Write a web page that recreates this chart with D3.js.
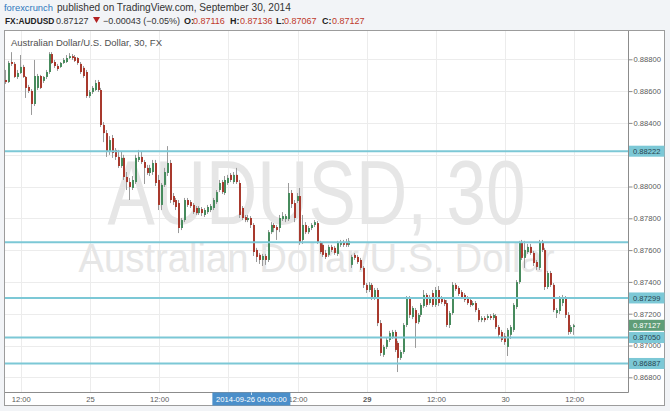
<!DOCTYPE html>
<html>
<head>
<meta charset="utf-8">
<script src="https://cdnjs.cloudflare.com/ajax/libs/d3/7.8.5/d3.min.js"></script>
<style>
    body { margin: 0; background: #f2f4f7; }
    svg { display: block; font-family: "Liberation Sans", Arial, sans-serif; }
</style>
</head>
<body>
<svg id="chart" width="670" height="411"></svg>
<script>
// AUDUSD 30 min candles, 24 Sep 09:30 .. 30 Sep 12:00 (bar 0 = 24 Sep 12:00)
// quotes in points (1 point = 0.00001)
var firstBar = -5;

var openPts = [
    88670, 88657, 88783, 88771, 88689, 88714, 88752, 88689, 88626, 88601,
    88519, 88620, 88695, 88664, 88689, 88720, 88833, 88783, 88758, 88752,
    88777, 88783, 88808, 88820, 88814, 88808, 88771, 88746, 88720, 88569,
    88594, 88607, 88657, 88607, 88387, 88336, 88217, 88305, 88230, 88186,
    88129, 88180, 88060, 88028, 87991, 88028, 88167, 88186, 88154, 88117,
    88085, 88091, 88148, 88041, 87884, 88010, 88085, 88148, 87940, 87915,
    87896, 87739, 87789, 87915, 87902, 87884, 87865, 87833, 87858, 87821,
    87839, 87852, 87865, 87902, 87978, 88028, 87959, 88022, 88073, 88028,
    88073, 88022, 87865, 87808, 87789, 87802, 87758, 87601, 87570, 87538,
    87563, 87538, 87713, 87758, 87745, 87739, 87795, 87795, 87795, 87959,
    87896, 87909, 87940, 87664, 87758, 87713, 87739, 87758, 87770, 87645,
    87633, 87582, 87570, 87620, 87614, 87576, 87633, 87645, 87651, 87633,
    87507, 87570, 87557, 87538, 87488, 87381, 87349, 87381, 87299, 87349,
    87141, 86941, 86991, 87035, 87054, 87085, 87016, 86922, 86959, 87129,
    87299, 87179, 87223, 87147, 87192, 87248, 87318, 87267, 87330, 87255,
    87349, 87299, 87286, 87267, 87129, 87204, 87381, 87362, 87336, 87318,
    87299, 87286, 87255, 87267, 87223, 87160, 87173, 87173, 87185, 87173,
    87185, 87116, 87085, 87060, 86991, 87067, 87098, 87242, 87399, 87645,
    87551, 87588, 87620, 87582, 87525, 87488, 87651, 87601, 87368, 87456,
    87381, 87204, 87217, 87267, 87299, 87192, 87085, 87116
];

var highPts = [
    88733, 88790, 88845, 88783, 88733, 88827, 88765, 88695, 88639, 88613,
    88796, 88708, 88702, 88695, 88733, 88845, 88845, 88796, 88771, 88783,
    88808, 88827, 88839, 88833, 88827, 88814, 88783, 88758, 88733, 88607,
    88632, 88670, 88670, 88620, 88405, 88355, 88317, 88324, 88242, 88230,
    88217, 88199, 88091, 88054, 88066, 88199, 88230, 88217, 88167, 88136,
    88136, 88167, 88167, 88073, 88022, 88117, 88254, 88167, 87959, 87928,
    87915, 87802, 87928, 87928, 87915, 87896, 87877, 87877, 87871, 87865,
    87884, 87890, 87928, 87978, 88041, 88041, 88066, 88073, 88085, 88091,
    88117, 88041, 87877, 87821, 87821, 87814, 87770, 87614, 87582, 87576,
    87576, 87726, 87776, 87770, 87758, 87821, 87839, 87827, 88022, 87978,
    87915, 87959, 87991, 87821, 87776, 87751, 87770, 87789, 87783, 87658,
    87645, 87601, 87633, 87633, 87626, 87658, 87664, 87664, 87670, 87676,
    87570, 87582, 87570, 87551, 87500, 87393, 87399, 87393, 87362, 87362,
    87160, 87004, 87048, 87092, 87098, 87098, 87029, 86972, 87141, 87311,
    87311, 87248, 87236, 87204, 87267, 87349, 87330, 87318, 87349, 87368,
    87374, 87311, 87299, 87286, 87217, 87399, 87393, 87374, 87349, 87330,
    87311, 87299, 87280, 87280, 87236, 87185, 87185, 87198, 87198, 87204,
    87198, 87129, 87098, 87079, 87110, 87129, 87267, 87412, 87658, 87664,
    87658, 87639, 87639, 87595, 87538, 87664, 87664, 87614, 87469, 87469,
    87393, 87236, 87311, 87318, 87311, 87210, 87129, 87136
];

var lowPts = [
    88645, 88651, 88758, 88683, 88676, 88708, 88683, 88557, 88588, 88450,
    88506, 88607, 88613, 88651, 88676, 88708, 88771, 88746, 88727, 88746,
    88771, 88777, 88802, 88796, 88783, 88765, 88708, 88683, 88557, 88557,
    88582, 88601, 88594, 88374, 88279, 88186, 88199, 88180, 88167, 88117,
    88117, 88041, 87978, 87915, 87978, 88016, 88154, 88142, 88016, 88073,
    88066, 88073, 88003, 87852, 87852, 87997, 88066, 87896, 87884, 87852,
    87707, 87726, 87776, 87871, 87865, 87827, 87821, 87821, 87814, 87808,
    87827, 87839, 87852, 87890, 87965, 87953, 87947, 88010, 88028, 88016,
    88016, 87802, 87789, 87776, 87776, 87739, 87563, 87525, 87513, 87500,
    87507, 87525, 87701, 87713, 87664, 87713, 87783, 87776, 87783, 87865,
    87776, 87896, 87633, 87639, 87701, 87701, 87726, 87745, 87639, 87576,
    87557, 87544, 87557, 87588, 87570, 87563, 87620, 87620, 87620, 87620,
    87488, 87538, 87513, 87475, 87362, 87330, 87336, 87286, 87286, 87122,
    86934, 86928, 86978, 87022, 87041, 86959, 86833, 86909, 86947, 87116,
    87173, 87166, 86985, 87135, 87179, 87236, 87242, 87255, 87242, 87242,
    87248, 87261, 87248, 87116, 87110, 87192, 87343, 87311, 87292, 87273,
    87255, 87242, 87248, 87210, 87147, 87147, 87147, 87160, 87160, 87160,
    87103, 87054, 87022, 87004, 86934, 87041, 87085, 87229, 87387, 87538,
    87488, 87576, 87570, 87500, 87475, 87475, 87588, 87349, 87355, 87368,
    87210, 87173, 87198, 87248, 87173, 87067, 87073, 87067
];

var closePts = [
    88657, 88777, 88771, 88689, 88714, 88752, 88689, 88620, 88601, 88519,
    88695, 88695, 88620, 88689, 88720, 88833, 88777, 88758, 88739, 88777,
    88796, 88808, 88820, 88808, 88790, 88777, 88720, 88695, 88569, 88594,
    88620, 88651, 88607, 88387, 88336, 88217, 88292, 88211, 88186, 88129,
    88180, 88060, 88028, 87997, 88041, 88180, 88186, 88154, 88117, 88085,
    88117, 88148, 88022, 87884, 88010, 88091, 88148, 87915, 87902, 87871,
    87739, 87789, 87915, 87884, 87877, 87839, 87833, 87865, 87833, 87852,
    87871, 87877, 87915, 87965, 88022, 87965, 88041, 88054, 88041, 88073,
    88028, 87821, 87802, 87789, 87802, 87758, 87588, 87557, 87538, 87563,
    87538, 87713, 87758, 87739, 87726, 87802, 87814, 87814, 87959, 87890,
    87802, 87940, 87651, 87758, 87713, 87739, 87758, 87776, 87651, 87588,
    87570, 87557, 87620, 87601, 87582, 87645, 87651, 87633, 87633, 87658,
    87557, 87551, 87525, 87488, 87381, 87349, 87381, 87305, 87349, 87141,
    86953, 86991, 87035, 87079, 87085, 86972, 86922, 86959, 87129, 87299,
    87192, 87236, 87141, 87192, 87255, 87318, 87255, 87305, 87255, 87349,
    87267, 87273, 87261, 87129, 87204, 87381, 87355, 87324, 87305, 87286,
    87267, 87255, 87267, 87223, 87160, 87173, 87160, 87185, 87173, 87192,
    87116, 87067, 87035, 87022, 87098, 87116, 87255, 87399, 87645, 87551,
    87601, 87620, 87582, 87519, 87494, 87651, 87601, 87368, 87456, 87381,
    87223, 87223, 87299, 87299, 87192, 87085, 87116, 87127
];

// "26" sits under the crosshair time label, so it is not printed
var timeTickBars = [0, 24, 48, 72, 96, 120, 144, 168, 192];
var timeTickLabels = ["12:00", "25", "12:00", "", "12:00", "29", "12:00", "30", "12:00"];
var priceTicks = [0.888, 0.886, 0.884, 0.882, 0.880, 0.878, 0.876, 0.874, 0.872, 0.870, 0.868];

var levelPrices = [0.88222, 0.87650, 0.87299, 0.87050, 0.86887];
var levelLabelShown = [true, false, true, true, true];
var lastPrice = 0.87127;
var cursorBar = 80, cursorLabel = "2014-09-26 04:00:00";

var POINT = 1e-5;
var UP = "#478b5d", DOWN = "#a8392d", WICK = "#9a9a9a", LEVEL = "#7cc8d6";
var plot = {left: 5, right: 628, top: 31, bottom: 392};

var candles = openPts.map(function(o, i) {
    return {
        bar: firstBar + i,
        o: o * POINT,
        h: highPts[i] * POINT,
        l: lowPts[i] * POINT,
        c: closePts[i] * POINT
    };
});

var svg = d3.select("#chart");

var x = d3.scaleLinear()
    .domain([0, 192])
    .range([20.7, 574.3]);

var y = d3.scaleLinear()
    .domain([0.868, 0.888])
    .range([377.3, 59.3]);

var fmt = d3.format(".5f");

// frame
svg.append("rect")
    .attr("x", 4.5).attr("y", 30.5)
    .attr("width", 660).attr("height", 375)
    .attr("fill", "#fff")
    .attr("stroke", "#9c9c9c");

svg.append("defs").append("clipPath")
    .attr("id", "plotClip")
    .append("rect")
    .attr("x", plot.left).attr("y", plot.top)
    .attr("width", plot.right - plot.left)
    .attr("height", plot.bottom - plot.top);

// grid
var grid = svg.append("g").attr("stroke", "#ececec").attr("stroke-width", 1);
grid.selectAll(".hg")
    .data(priceTicks)
    .enter().append("line")
    .attr("x1", plot.left).attr("x2", plot.right)
    .attr("y1", function(d) { return Math.round(y(d)) + 0.5; })
    .attr("y2", function(d) { return Math.round(y(d)) + 0.5; });
grid.selectAll(".vg")
    .data(timeTickBars)
    .enter().append("line")
    .attr("y1", plot.top).attr("y2", plot.bottom)
    .attr("x1", function(d) { return Math.round(x(d)) + 0.5; })
    .attr("x2", function(d) { return Math.round(x(d)) + 0.5; });

// watermark, squeezed horizontally to the width it has in the picture
var mid = (plot.left + plot.right) / 2;
function watermark(txt, baseline, size, width) {
    var g = svg.append("g");
    var t = g.append("text")
        .attr("text-anchor", "middle")
        .attr("font-size", size)
        .attr("fill", "#e6e6e6")
        .text(txt);
    var k = width / t.node().getComputedTextLength();
    g.attr("transform", "translate(" + mid + "," + baseline + ") scale(" + k + ",1)");
}
watermark("AUDUSD, 30", 224, 90, 418);
watermark("Australian Dollar/U.S. Dollar", 272, 40, 476);

// candles
var gc = svg.append("g").attr("clip-path", "url(#plotClip)");
var px = function(d) { return Math.round(x(d.bar)); };

gc.selectAll(".wick")
    .data(candles)
    .enter().append("line")
    .attr("x1", function(d) { return px(d) - 0.5; })
    .attr("x2", function(d) { return px(d) - 0.5; })
    .attr("y1", function(d) { return y(d.h); })
    .attr("y2", function(d) { return y(d.l); })
    .attr("stroke", WICK);

gc.selectAll(".body")
    .data(candles)
    .enter().append("rect")
    .attr("x", function(d) { return px(d) - 1; })
    .attr("width", 2)
    .attr("y", function(d) { return y(Math.max(d.o, d.c)); })
    .attr("height", function(d) { return Math.max(1, Math.abs(y(d.o) - y(d.c))); })
    .attr("fill", function(d) { return d.c >= d.o ? UP : DOWN; });

// horizontal levels
svg.append("g").selectAll("line")
    .data(levelPrices)
    .enter().append("line")
    .attr("x1", plot.left)
    .attr("x2", function(d, i) { return levelLabelShown[i] ? 664 : plot.right; })
    .attr("y1", function(d) { return y(d); })
    .attr("y2", function(d) { return y(d); })
    .attr("stroke", LEVEL)
    .attr("stroke-width", 2);

// chart title
svg.append("text")
    .attr("x", 11).attr("y", 46)
    .attr("font-size", 9.5)
    .attr("fill", "#505050")
    .text("Australian Dollar/U.S. Dollar, 30, FX");

// axis lines
svg.append("line")
    .attr("x1", plot.right + 0.5).attr("x2", plot.right + 0.5)
    .attr("y1", plot.top).attr("y2", plot.bottom + 0.5)
    .attr("stroke", "#8c8c8c");
svg.append("line")
    .attr("x1", plot.left).attr("x2", plot.right + 0.5)
    .attr("y1", plot.bottom + 0.5).attr("y2", plot.bottom + 0.5)
    .attr("stroke", "#8c8c8c");

// level labels and last price
var tags = levelPrices
    .map(function(p, i) { return {p: p, show: levelLabelShown[i], fill: LEVEL, color: "#274450"}; })
    .filter(function(d) { return d.show; });
tags.push({p: lastPrice, fill: "#5f9d78", color: "#fff"});

// price axis (tick labels fully covered by a tag are left out)
var covered = function(t) {
    return tags.some(function(d) { return Math.abs(y(d.p) - y(t)) < 5; });
};
var yAxis = svg.append("g")
    .attr("transform", "translate(" + (plot.right + 0.5) + ",0)")
    .call(d3.axisRight(y).tickValues(priceTicks).tickSize(4).tickPadding(1)
        .tickFormat(function(t) { return covered(t) ? "" : fmt(t); }));
yAxis.select(".domain").remove();
yAxis.selectAll("line").attr("stroke", "#8c8c8c");
yAxis.selectAll("text")
    .attr("font-size", 7.6)
    .attr("font-family", "Liberation Sans, Arial, sans-serif")
    .attr("fill", "#5a5a5a");

var tg = svg.append("g").selectAll("g")
    .data(tags)
    .enter().append("g")
    .attr("transform", function(d) { return "translate(" + (plot.right + 1) + "," + y(d.p) + ")"; });
tg.append("rect")
    .attr("x", 0).attr("y", -5.5)
    .attr("width", 35.5).attr("height", 11)
    .attr("fill", function(d) { return d.fill; });
tg.append("text")
    .attr("x", 4).attr("dy", "0.35em")
    .attr("font-size", 7.6)
    .attr("fill", function(d) { return d.color; })
    .text(function(d) { return fmt(d.p); });

// time axis
var xAxis = svg.append("g")
    .attr("transform", "translate(0," + (plot.bottom + 0.5) + ")")
    .call(d3.axisBottom(x).tickValues(timeTickBars).tickSize(0).tickPadding(4.5)
        .tickFormat(function(d, i) { return timeTickLabels[i]; }));
xAxis.select(".domain").remove();
xAxis.selectAll("text")
    .attr("font-size", 7.6)
    .attr("font-family", "Liberation Sans, Arial, sans-serif")
    .attr("fill", "#5a5a5a")
    .attr("font-weight", function(d, i) { return timeTickLabels[i] === "29" ? "bold" : null; });

// crosshair time label
var cx = x(cursorBar);
svg.append("rect")
    .attr("x", cx - 39).attr("y", plot.bottom + 0.5)
    .attr("width", 78).attr("height", 13)
    .attr("fill", "#4b8fca");
svg.append("line")
    .attr("x1", Math.round(cx) + 0.5).attr("x2", Math.round(cx) + 0.5)
    .attr("y1", plot.bottom + 0.5).attr("y2", plot.bottom + 3)
    .attr("stroke", "#cfe2f3");
svg.append("text")
    .attr("x", cx).attr("y", 402)
    .attr("text-anchor", "middle")
    .attr("font-size", 7.6)
    .attr("fill", "#fff")
    .text(cursorLabel);

// header
svg.append("text")
    .attr("x", 4).attr("y", 11)
    .attr("font-size", 9.4)
    .attr("fill", "#2f78bd")
    .text("forexcrunch");
svg.append("text")
    .attr("x", 57).attr("y", 11)
    .attr("font-size", 10.1)
    .attr("fill", "#333")
    .text("published on TradingView.com, September 30, 2014");

var head2 = [
    {x: 5, t: "FX:AUDUSD", w: "bold", c: "#222", s: 8.4},
    {x: 56, t: "0.87127", w: null, c: "#333", s: 9},
    {x: 103, t: "\u22120.00043 (\u22120.05%)", w: null, c: "#333", s: 9},
    {x: 184, t: "O:", w: "bold", c: "#222", s: 9},
    {x: 193, t: "0.87116", w: null, c: "#c0392b", s: 9},
    {x: 230, t: "H:", w: "bold", c: "#222", s: 9},
    {x: 240, t: "0.87136", w: null, c: "#c0392b", s: 9},
    {x: 276, t: "L:", w: "bold", c: "#222", s: 9},
    {x: 284, t: "0.87067", w: null, c: "#c0392b", s: 9},
    {x: 322, t: "C:", w: "bold", c: "#222", s: 9},
    {x: 332, t: "0.87127", w: null, c: "#c0392b", s: 9}
];
svg.append("g").selectAll("text")
    .data(head2)
    .enter().append("text")
    .attr("x", function(d) { return d.x; })
    .attr("y", 23.5)
    .attr("font-size", function(d) { return d.s; })
    .attr("font-weight", function(d) { return d.w; })
    .attr("fill", function(d) { return d.c; })
    .text(function(d) { return d.t; });
svg.append("path")
    .attr("d", "M93,17 L100,17 L96.5,23 Z")
    .attr("fill", "#b22222");
</script>
</body>
</html>
